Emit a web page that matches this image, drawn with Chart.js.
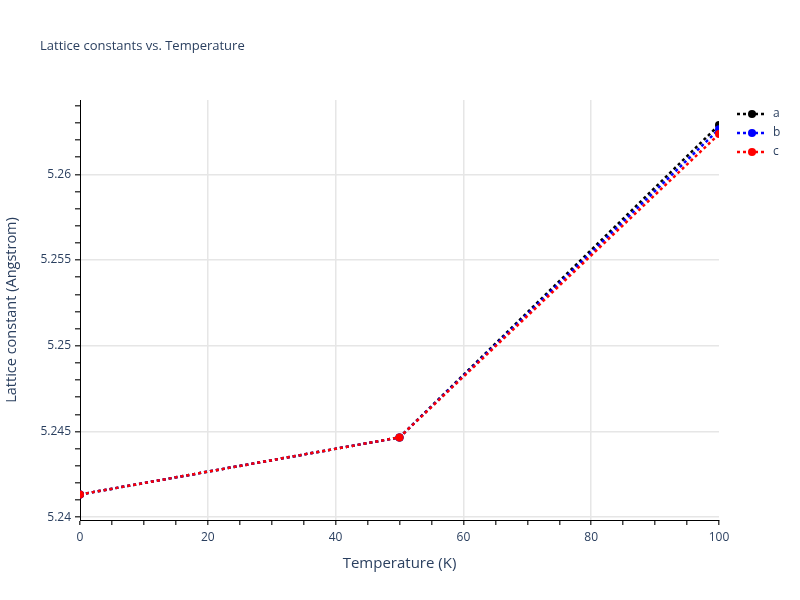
<!DOCTYPE html>
<html>
<head>
<meta charset="utf-8">
<script src="https://cdn.jsdelivr.net/npm/chart.js@4"></script>
<style>
  html, body { margin: 0; padding: 0; background: #fff; }
  #wrap { width: 800px; height: 600px; }
</style>
</head>
<body>
<div id="wrap"><canvas id="lattice-chart" width="800" height="600"></canvas></div>
<script>
// --- data ---
const temperatures = [0, 50, 100];
const latticeA = [5.24132, 5.24465, 5.26288];
const latticeB = [5.24132, 5.24465, 5.26263];
const latticeC = [5.24132, 5.24465, 5.26235];
const seriesNames = ['a', 'b', 'c'];
const seriesColors = ['#000000', '#0000ff', '#ff0000'];

const FONT = '"Open Sans", verdana, arial, sans-serif';
const TEXT_COLOR = '#2a3f5f';
const GRID_COLOR = '#e6e6e6';

// y ticks every 0.001, labels every 0.005
const yTickValues = [];
for (let i = 0; i <= 24; i++) yTickValues.push(+(5.24 + i * 0.001).toFixed(3));
const isMajorY = v => Math.abs(v * 200 - Math.round(v * 200)) < 1e-6;
const isMajorX = v => v % 20 === 0;

const series = [latticeA, latticeB, latticeC];

// title + legend drawn by hand (plotly-like)
const extrasPlugin = {
    id: 'extras',
    afterDraw(chart) {
        const ctx = chart.ctx;
        ctx.save();
        ctx.fillStyle = TEXT_COLOR;
        ctx.font = `13px ${FONT}`;
        ctx.textBaseline = 'middle';
        ctx.textAlign = 'left';
        ctx.fillText('Lattice constants vs. Temperature', 40, 46);

        seriesNames.forEach((name, i) => {
            const y = 114 + i * 19;
            ctx.strokeStyle = seriesColors[i];
            ctx.lineWidth = 2.5;
            ctx.setLineDash([3, 3]);
            ctx.beginPath();
            ctx.moveTo(737, y);
            ctx.lineTo(767, y);
            ctx.stroke();
            ctx.setLineDash([]);
            ctx.fillStyle = seriesColors[i];
            ctx.beginPath();
            ctx.arc(752, y, 4, 0, Math.PI * 2);
            ctx.fill();
            ctx.fillStyle = TEXT_COLOR;
            ctx.font = `12px ${FONT}`;
            ctx.fillText(name, 773, y);
        });
        ctx.restore();
    }
};

const ctx = document.getElementById('lattice-chart').getContext('2d');

new Chart(ctx, {
    type: 'line',
    data: {
        datasets: series.map((vals, i) => ({
            label: seriesNames[i],
            data: temperatures.map((t, j) => ({ x: t, y: vals[j] })),
            borderColor: seriesColors[i],
            backgroundColor: seriesColors[i],
            borderWidth: 2.5,
            borderDash: [3, 3],
            pointRadius: 4,
            pointHoverRadius: 4,
            pointBorderWidth: 0,
            tension: 0,
            order: 2 - i
        }))
    },
    options: {
        responsive: false,
        animation: false,
        layout: { padding: { top: 100, right: 81, left: 0, bottom: 0 } },
        plugins: {
            legend: { display: false },
            tooltip: { enabled: false },
            title: { display: false }
        },
        scales: {
            x: {
                type: 'linear',
                min: 0,
                max: 100,
                afterFit: s => { s.height = 80; },
                ticks: {
                    stepSize: 5,
                    autoSkip: false,
                    maxRotation: 0,
                    padding: 5,
                    color: TEXT_COLOR,
                    font: { family: FONT, size: 12 },
                    callback: v => isMajorX(v) ? String(v) : ''
                },
                grid: {
                    color: c => (isMajorX(c.tick.value) && c.tick.value > 0 && c.tick.value < 100) ? GRID_COLOR : 'rgba(0,0,0,0)',
                    tickColor: '#444',
                    tickLength: 5,
                    lineWidth: 1.5
                },
                border: { color: '#000', width: 1 },
                title: {
                    display: true,
                    text: 'Temperature (K)',
                    color: TEXT_COLOR,
                    font: { family: FONT, size: 15 },
                    padding: { top: 0, bottom: 27 }
                }
            },
            y: {
                type: 'linear',
                min: 5.23983,
                max: 5.26434,
                afterFit: s => { s.width = 80; },
                afterBuildTicks: s => { s.ticks = yTickValues.map(v => ({ value: v })); },
                ticks: {
                    autoSkip: false,
                    padding: 4,
                    color: TEXT_COLOR,
                    font: { family: FONT, size: 12 },
                    callback: v => isMajorY(v) ? String(+v.toFixed(3)) : ''
                },
                grid: {
                    color: c => isMajorY(c.tick.value) ? GRID_COLOR : 'rgba(0,0,0,0)',
                    tickColor: '#444',
                    tickLength: 5,
                    lineWidth: 1.5
                },
                border: { color: '#000', width: 1 },
                title: {
                    display: true,
                    text: 'Lattice constant (Angstrom)',
                    color: TEXT_COLOR,
                    font: { family: FONT, size: 14.5 },
                    padding: { top: 3, bottom: 0 }
                }
            }
        }
    },
    plugins: [extrasPlugin]
});
</script>
</body>
</html>
